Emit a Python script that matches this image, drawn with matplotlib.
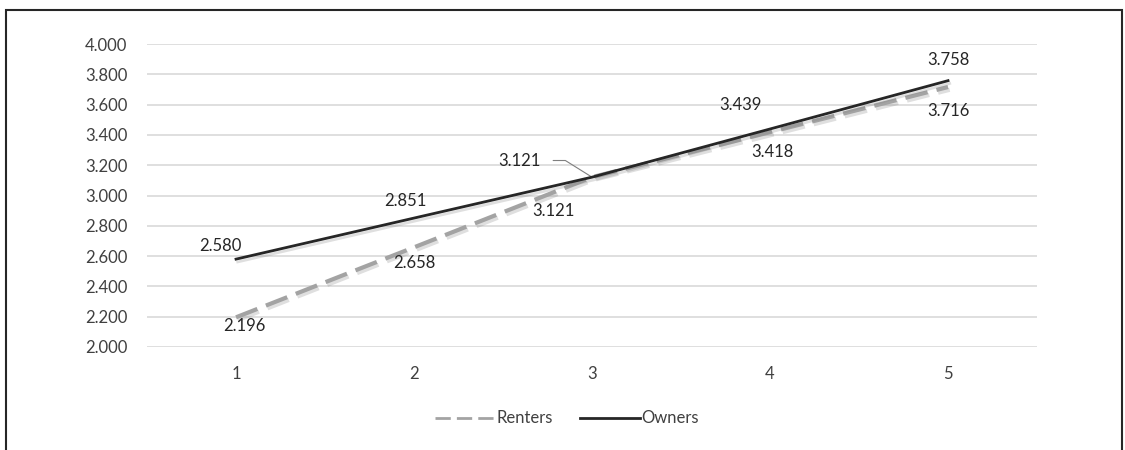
import matplotlib
matplotlib.use("Agg")
import matplotlib.pyplot as plt
import matplotlib.patheffects as pe
from matplotlib.patches import Rectangle

categories = ["1", "2", "3", "4", "5"]
renters = [2.196, 2.658, 3.121, 3.418, 3.716]
owners = [2.580, 2.851, 3.121, 3.439, 3.758]
y_ticks = [2.0, 2.2, 2.4, 2.6, 2.8, 3.0, 3.2, 3.4, 3.6, 3.8, 4.0]


def main():
    plt.rcParams['font.family'] = ["Lato", "DejaVu Sans"]
    fig = plt.figure(figsize=(11.25, 4.5), dpi=100)
    ax = fig.add_axes([0.1307, 0.2289, 0.7911, 0.6733])

    x = list(range(1, len(categories) + 1))
    shadow = [pe.SimpleLineShadow(offset=(1.2, -2.0), shadow_color='gray', alpha=0.25), pe.Normal()]

    ax.plot(x, renters, color='#a3a3a3', lw=3.0, dashes=(5.5, 2.2), label='Renters',
            path_effects=shadow, dash_capstyle='butt', zorder=3)
    ax.plot(x, owners, color='#262626', lw=2.0, label='Owners', path_effects=shadow, zorder=4)

    ax.set_xlim(0.5, 5.5)
    ax.set_ylim(2.0, 4.0)
    ax.set_yticks(y_ticks)
    ax.set_yticklabels([f"{v:.3f}" for v in y_ticks])
    ax.set_xticks(x)
    ax.set_xticklabels(categories)
    ax.grid(axis='y', color='#d9d9d9', lw=1.2)
    ax.set_axisbelow(True)
    for s in ax.spines.values():
        s.set_visible(False)
    ax.tick_params(length=0, labelsize=12, colors='#404040', pad=14)
    ax.tick_params(axis='x', pad=14)

    kw = dict(fontsize=12, color='#262626', ha='center', va='center')
    # label offsets in points
    owner_off = [(-11, 9.5), (-6.5, 12), (-52, 12), (-21, 17), (0, 15)]
    renter_off = [(6, -6.5), (0, -11), (-28, -24), (2, -14), (0, -17)]
    for i in range(len(x)):
        ax.annotate(f"{owners[i]:.3f}", (x[i], owners[i]), xytext=owner_off[i],
                    textcoords='offset points', **kw)
        ax.annotate(f"{renters[i]:.3f}", (x[i], renters[i]), xytext=renter_off[i],
                    textcoords='offset points', **kw)
    # leader line for the owners label at 3
    ax.annotate("", (x[2], owners[2]), xytext=(-28, 12), textcoords='offset points',
                arrowprops=dict(arrowstyle='-', color='#7f7f7f', lw=0.8, shrinkA=0, shrinkB=0,
                                connectionstyle='angle,angleA=0,angleB=148,rad=0'))

    leg = ax.legend(loc='upper center', bbox_to_anchor=(0.472, -0.16), ncol=2, frameon=False,
                    fontsize=12, labelcolor='#404040', handlelength=3.6, handletextpad=0.1,
                    columnspacing=1.6)
    for h in leg.get_lines():
        h.set_path_effects([])
        h.set_linewidth(2.0)

    fig.patches.append(Rectangle((6 / 1125, -0.1), 1116 / 1125, 1.078,
                                 transform=fig.transFigure, fill=False,
                                 edgecolor='#262626', lw=1.5))
    fig.savefig("out.png", dpi=100)


if __name__ == "__main__":
    main()
